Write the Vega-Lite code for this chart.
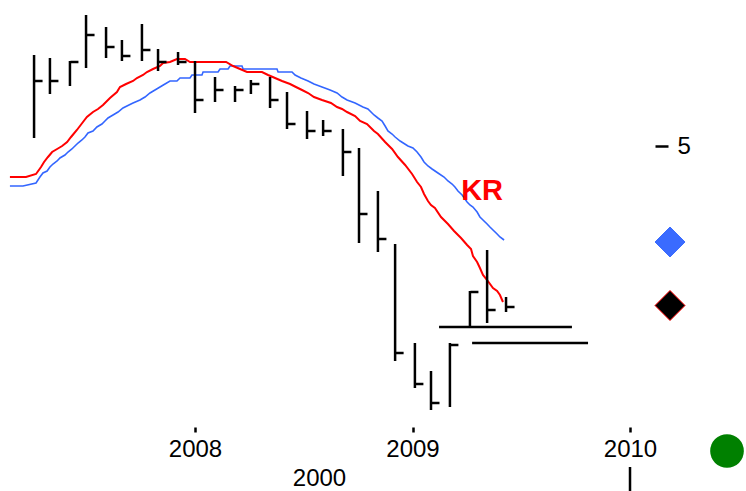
{
  "$schema": "https://vega.github.io/schema/vega-lite/v6.json",
  "autosize": {"type": "none"},
  "padding": {"left": 0, "top": 0, "right": 91, "bottom": 64},
  "width": 655,
  "height": 427,
  "background": "white",
  "config": {"view": {"stroke": null}, "font": "Liberation Sans"},
  "datasets": {
    "red": [
      {"yr":2007.149,"price":4.38},{"yr":2007.223,"price":4.38},{"yr":2007.269,"price":4.44},{"yr":2007.292,"price":4.58},{"yr":2007.306,"price":4.68},{"yr":2007.324,"price":4.78},{"yr":2007.343,"price":4.88},{"yr":2007.366,"price":4.94},{"yr":2007.389,"price":5.00},{"yr":2007.412,"price":5.08},{"yr":2007.430,"price":5.18},{"yr":2007.457,"price":5.32},{"yr":2007.485,"price":5.48},{"yr":2007.503,"price":5.58},{"yr":2007.531,"price":5.68},{"yr":2007.554,"price":5.74},{"yr":2007.577,"price":5.82},{"yr":2007.609,"price":5.96},{"yr":2007.641,"price":6.08},{"yr":2007.655,"price":6.18},{"yr":2007.683,"price":6.24},{"yr":2007.715,"price":6.30},{"yr":2007.733,"price":6.36},{"yr":2007.761,"price":6.42},{"yr":2007.779,"price":6.48},{"yr":2007.807,"price":6.54},{"yr":2007.839,"price":6.60},{"yr":2007.853,"price":6.66},{"yr":2007.885,"price":6.68},{"yr":2007.917,"price":6.74},{"yr":2007.954,"price":6.74},{"yr":2007.977,"price":6.68},{"yr":2008.143,"price":6.68},{"yr":2008.175,"price":6.60},{"yr":2008.207,"price":6.54},{"yr":2008.239,"price":6.48},{"yr":2008.308,"price":6.48},{"yr":2008.336,"price":6.42},{"yr":2008.368,"price":6.36},{"yr":2008.400,"price":6.30},{"yr":2008.437,"price":6.24},{"yr":2008.464,"price":6.18},{"yr":2008.492,"price":6.12},{"yr":2008.520,"price":6.06},{"yr":2008.547,"price":5.98},{"yr":2008.584,"price":5.92},{"yr":2008.625,"price":5.86},{"yr":2008.653,"price":5.78},{"yr":2008.676,"price":5.74},{"yr":2008.699,"price":5.68},{"yr":2008.736,"price":5.60},{"yr":2008.759,"price":5.50},{"yr":2008.791,"price":5.44},{"yr":2008.823,"price":5.30},{"yr":2008.841,"price":5.24},{"yr":2008.874,"price":5.08},{"yr":2008.906,"price":4.94},{"yr":2008.933,"price":4.78},{"yr":2008.966,"price":4.62},{"yr":2008.998,"price":4.44},{"yr":2009.021,"price":4.28},{"yr":2009.039,"price":4.18},{"yr":2009.053,"price":4.04},{"yr":2009.071,"price":3.90},{"yr":2009.085,"price":3.82},{"yr":2009.103,"price":3.76},{"yr":2009.131,"price":3.58},{"yr":2009.163,"price":3.44},{"yr":2009.191,"price":3.30},{"yr":2009.223,"price":3.16},{"yr":2009.251,"price":3.02},{"yr":2009.269,"price":2.94},{"yr":2009.278,"price":2.80},{"yr":2009.297,"price":2.68},{"yr":2009.310,"price":2.56},{"yr":2009.324,"price":2.42},{"yr":2009.343,"price":2.32},{"yr":2009.370,"price":2.16},{"yr":2009.389,"price":2.10},{"yr":2009.402,"price":2.02},{"yr":2009.416,"price":1.88}
    ],
    "blue": [
      {"yr":2007.149,"price":4.20},{"yr":2007.209,"price":4.20},{"yr":2007.269,"price":4.26},{"yr":2007.287,"price":4.38},{"yr":2007.301,"price":4.46},{"yr":2007.320,"price":4.50},{"yr":2007.333,"price":4.58},{"yr":2007.347,"price":4.64},{"yr":2007.366,"price":4.70},{"yr":2007.379,"price":4.76},{"yr":2007.402,"price":4.82},{"yr":2007.416,"price":4.88},{"yr":2007.434,"price":4.94},{"yr":2007.448,"price":5.00},{"yr":2007.462,"price":5.06},{"yr":2007.480,"price":5.12},{"yr":2007.494,"price":5.18},{"yr":2007.508,"price":5.26},{"yr":2007.531,"price":5.30},{"yr":2007.549,"price":5.38},{"yr":2007.572,"price":5.44},{"yr":2007.586,"price":5.50},{"yr":2007.600,"price":5.56},{"yr":2007.623,"price":5.62},{"yr":2007.646,"price":5.68},{"yr":2007.669,"price":5.76},{"yr":2007.687,"price":5.80},{"yr":2007.715,"price":5.86},{"yr":2007.747,"price":5.92},{"yr":2007.770,"price":5.98},{"yr":2007.793,"price":6.06},{"yr":2007.816,"price":6.12},{"yr":2007.839,"price":6.18},{"yr":2007.862,"price":6.24},{"yr":2007.885,"price":6.30},{"yr":2007.917,"price":6.30},{"yr":2007.931,"price":6.36},{"yr":2007.977,"price":6.36},{"yr":2007.986,"price":6.42},{"yr":2008.032,"price":6.42},{"yr":2008.037,"price":6.48},{"yr":2008.106,"price":6.48},{"yr":2008.115,"price":6.54},{"yr":2008.152,"price":6.54},{"yr":2008.161,"price":6.60},{"yr":2008.216,"price":6.60},{"yr":2008.221,"price":6.54},{"yr":2008.377,"price":6.54},{"yr":2008.382,"price":6.48},{"yr":2008.446,"price":6.48},{"yr":2008.460,"price":6.42},{"yr":2008.487,"price":6.36},{"yr":2008.520,"price":6.30},{"yr":2008.547,"price":6.24},{"yr":2008.584,"price":6.18},{"yr":2008.621,"price":6.12},{"yr":2008.653,"price":6.06},{"yr":2008.676,"price":5.98},{"yr":2008.699,"price":5.92},{"yr":2008.736,"price":5.86},{"yr":2008.772,"price":5.78},{"yr":2008.795,"price":5.74},{"yr":2008.823,"price":5.62},{"yr":2008.841,"price":5.56},{"yr":2008.860,"price":5.50},{"yr":2008.874,"price":5.40},{"yr":2008.887,"price":5.30},{"yr":2008.906,"price":5.24},{"yr":2008.920,"price":5.18},{"yr":2008.943,"price":5.10},{"yr":2008.979,"price":5.00},{"yr":2009.002,"price":4.96},{"yr":2009.021,"price":4.88},{"yr":2009.039,"price":4.78},{"yr":2009.053,"price":4.68},{"yr":2009.071,"price":4.60},{"yr":2009.090,"price":4.54},{"yr":2009.117,"price":4.46},{"yr":2009.145,"price":4.38},{"yr":2009.163,"price":4.30},{"yr":2009.182,"price":4.24},{"yr":2009.195,"price":4.18},{"yr":2009.209,"price":4.10},{"yr":2009.228,"price":4.02},{"yr":2009.251,"price":3.88},{"yr":2009.264,"price":3.82},{"yr":2009.278,"price":3.78},{"yr":2009.297,"price":3.68},{"yr":2009.310,"price":3.58},{"yr":2009.324,"price":3.52},{"yr":2009.343,"price":3.44},{"yr":2009.356,"price":3.38},{"yr":2009.370,"price":3.32},{"yr":2009.389,"price":3.24},{"yr":2009.402,"price":3.18},{"yr":2009.421,"price":3.12}
    ],
    "bars": [
      {"yr":2007.260,"price":6.82,"low":5.16,"close":6.30},
      {"yr":2007.333,"price":6.76,"low":6.04,"close":6.30},
      {"yr":2007.425,"price":6.70,"low":6.20,"close":6.68},
      {"yr":2007.499,"price":7.62,"low":6.56,"close":7.22},
      {"yr":2007.591,"price":7.38,"low":6.76,"close":6.98},
      {"yr":2007.664,"price":7.12,"low":6.70,"close":6.80},
      {"yr":2007.756,"price":7.44,"low":6.70,"close":6.92},
      {"yr":2007.830,"price":6.94,"low":6.50,"close":6.68},
      {"yr":2007.922,"price":6.88,"low":6.62,"close":6.68},
      {"yr":2008.000,"price":6.70,"low":5.66,"close":5.92},
      {"yr":2008.092,"price":6.38,"low":5.88,"close":6.12},
      {"yr":2008.184,"price":6.20,"low":5.88,"close":6.12},
      {"yr":2008.257,"price":6.32,"low":6.04,"close":6.24},
      {"yr":2008.345,"price":6.38,"low":5.76,"close":5.92},
      {"yr":2008.423,"price":6.08,"low":5.34,"close":5.44},
      {"yr":2008.515,"price":5.70,"low":5.14,"close":5.30},
      {"yr":2008.589,"price":5.52,"low":5.20,"close":5.30},
      {"yr":2008.680,"price":5.34,"low":4.40,"close":4.88},
      {"yr":2008.754,"price":4.96,"low":3.06,"close":3.64},
      {"yr":2008.841,"price":4.10,"low":2.88,"close":3.14},
      {"yr":2008.920,"price":3.04,"low":0.70,"close":0.86},
      {"yr":2009.011,"price":1.06,"low":0.16,"close":0.24},
      {"yr":2009.085,"price":0.50,"low":-0.28,"close":-0.14},
      {"yr":2009.172,"price":1.06,"low":-0.22,"close":1.02},
      {"yr":2009.264,"price":2.10,"low":1.38,"close":2.08},
      {"yr":2009.343,"price":2.92,"low":1.46,"close":1.72},
      {"yr":2009.430,"price":1.98,"low":1.68,"close":1.78}
    ],
    "levels": [
      {"yr":2009.122,"yr2":2009.733,"price":1.38},
      {"yr":2009.274,"yr2":2009.807,"price":1.06}
    ],
    "markers": [
      {"yr":2010.184,"price":3.08,"series":"MA"},
      {"yr":2010.184,"price":1.81,"series":"Price"}
    ]
  },
  "encoding": {
    "x": {
      "field": "yr", "type": "quantitative",
      "scale": {"domain": [2007.1034, 2010.1149], "nice": false, "zero": false},
      "axis": {
        "values": [2008, 2009, 2010], "format": "d", "domain": false, "grid": false,
        "tickSize": 5, "tickWidth": 2.5, "tickColor": "black",
        "labelFont": "Liberation Sans", "labelFontSize": 24, "labelColor": "black", "labelPadding": 5, "labelFlush": false,
        "title": "2000", "titleFont": "Liberation Sans", "titleFontSize": 24, "titleFontWeight": "normal", "titleColor": "black",
        "titleX": 319, "titlePadding": 5
      }
    },
    "y": {
      "field": "price", "type": "quantitative",
      "scale": {"domain": [-0.62, 7.92], "nice": false, "zero": false},
      "axis": {
        "orient": "right", "values": [5], "domain": false, "grid": false,
        "tickSize": 13, "tickWidth": 2.5, "tickColor": "black",
        "labelFont": "Liberation Sans", "labelFontSize": 24, "labelColor": "black", "labelPadding": 9,
        "title": null
      }
    }
  },
  "layer": [
    {
      "data": {"name": "blue"},
      "mark": {"type": "line", "color": "#3366ff", "strokeWidth": 1.6}
    },
    {
      "data": {"name": "red"},
      "mark": {"type": "line", "color": "#ff0000", "strokeWidth": 2}
    },
    {
      "data": {"name": "levels"},
      "mark": {"type": "rule", "color": "black", "strokeWidth": 2.6},
      "encoding": {"x2": {"field": "yr2"}}
    },
    {
      "data": {"name": "bars"},
      "mark": {"type": "rule", "color": "black", "strokeWidth": 2.5},
      "encoding": {"y2": {"field": "low"}}
    },
    {
      "data": {"name": "bars"},
      "mark": {"type": "tick", "orient": "horizontal", "color": "black", "size": 8, "thickness": 2.5, "xOffset": 4.5, "opacity": 1},
      "encoding": {
        "y": {
          "field": "close", "type": "quantitative",
          "scale": {"domain": [-0.62, 7.92], "nice": false, "zero": false},
          "axis": {
            "orient": "right", "values": [5], "domain": false, "grid": false,
            "tickSize": 13, "tickWidth": 2.5, "tickColor": "black",
            "labelFont": "Liberation Sans", "labelFontSize": 24, "labelColor": "black", "labelPadding": 9,
            "title": null
          }
        }
      }
    },
    {
      "data": {"name": "markers"},
      "mark": {"type": "point", "shape": "diamond", "filled": true, "size": 900, "strokeWidth": 1, "opacity": 1},
      "encoding": {
        "fill": {"field": "series", "type": "nominal", "scale": {"domain": ["MA", "Price"], "range": ["#3a6bff", "#000000"]}, "legend": null},
        "stroke": {"field": "series", "type": "nominal", "scale": {"domain": ["MA", "Price"], "range": ["#3a6bff", "#ff0000"]}, "legend": null}
      }
    },
    {
      "data": {"values": [{"yr": 2010.446, "price": -1.10}]},
      "mark": {"type": "point", "shape": "circle", "filled": true, "size": 1134, "color": "#008000", "opacity": 1}
    },
    {
      "data": {"values": [{"yr": 2010.0, "price": -1.42, "price2": -1.90}]},
      "mark": {"type": "rule", "color": "black", "strokeWidth": 2.5},
      "encoding": {"y2": {"field": "price2"}}
    },
    {
      "data": {"values": [{"yr": 2009.320, "price": 4.10, "label": "KR"}]},
      "mark": {"type": "text", "font": "Liberation Sans", "fontSize": 29, "fontWeight": "bold", "color": "#ff0000", "align": "center", "baseline": "middle"},
      "encoding": {"text": {"field": "label"}}
    }
  ]
}
